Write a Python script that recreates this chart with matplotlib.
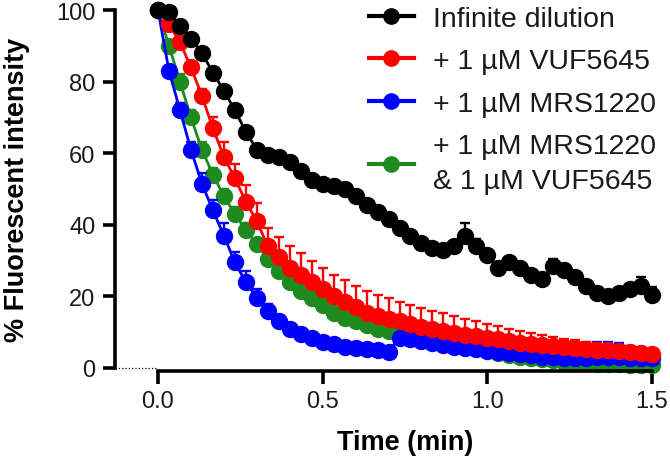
import matplotlib
matplotlib.use("Agg")
from matplotlib import pyplot as plt
from matplotlib.lines import Line2D
import numpy as np

# fluorescence decay after infinite dilution, 2 s sampling
time_min = np.arange(46) / 30.0

black_vals = [100, 99.5, 95.5, 92, 88, 82.5, 77.5, 72, 66, 61, 59.5, 59, 57.5, 55, 52.5,
              51.5, 50.8, 50, 48, 45.5, 43.5, 41.5, 39, 37, 35, 33.5, 33, 34, 37, 34,
              31.5, 28, 29.5, 28, 26, 25, 28.5, 27.5, 25.5, 23, 21, 20, 21, 22, 23, 20.5]
black_err = [0.5, 0.5, 1, 1, 1, 1, 1, 1, 1, 1, 1, 1, 1, 1, 1, 1, 1, 1, 1, 1, 1, 1, 1, 1,
             1, 1, 1, 1, 3.5, 2, 1, 1, 1, 1, 1, 1, 2, 1.5, 1, 1, 1, 1, 1, 1.5, 2.5, 2]

red_vals = [100, 96, 91, 84, 76, 67, 59, 53, 46.5, 41, 34, 31, 28, 26, 24, 22, 20, 18.5,
            17, 15.5, 14.5, 13.8, 13, 12.3, 11.5, 11, 10.3, 9.8, 9.3, 8.9, 8.4, 8, 7.5,
            7.1, 6.7, 6.4, 6.1, 5.8, 5.6, 5.3, 5.1, 4.9, 4.7, 4.5, 4.3, 4.0]
red_err = [0.5, 1, 1, 1, 2, 3, 4, 4, 4.5, 5, 5, 5.5, 6, 6, 6, 6, 6, 6, 6, 6, 6, 5.8, 5.5,
           5.3, 5.2, 5, 5, 4.8, 4.5, 4.2, 4, 3.6, 3.4, 3.2, 3, 2.8, 2.6, 2.4, 2.2, 2, 1.9,
           1.8, 1.7, 1.6, 1.5, 1.4]

blue_vals = [100, 83, 72, 61, 51.5, 44, 37, 29.5, 24, 19.5, 16, 13, 11, 9.5, 8.3, 7.3,
             6.6, 6, 5.6, 5.2, 4.9, 4.6, 8.5, 8.2, 7.6, 7, 6.5, 6, 5.6, 5.2, 4.8, 4.5,
             4.2, 3.8, 3.5, 3.2, 3, 2.8, 2.7, 2.8, 3, 3, 3, 2.9, 2.8, 2.7]
blue_err = [0.5, 1, 2, 2, 3, 3, 3.5, 3, 3, 2.5, 2, 1.5, 1, 1, 1, 1, 1, 1, 1, 1, 1, 1, 1,
            1, 1, 1, 1, 1, 1, 1, 1, 1, 1, 1, 1, 1, 1, 1, 2, 4, 4.3, 4.3, 4, 2, 1, 1]

green_vals = [100, 90, 80, 70, 61, 54, 48, 43, 38.5, 34.5, 30.5, 27, 24, 21.5, 19.5,
              17.5, 15.5, 14, 13, 12, 11, 10.2, 9.6, 9.3, 8.8, 8.3, 7.8, 7.2, 6.5, 5.7,
              5, 4.3, 3.7, 3.2, 2.8, 2.4, 2.1, 1.8, 1.6, 1.4, 1.2, 1.1, 1.0, 0.9, 0.8, 0.8]
green_err = [0.5, 1, 2, 2, 2, 2, 2, 2, 2, 1.5, 1.5, 1.5, 1, 1, 1, 1, 1, 1, 1, 1, 1, 1, 1,
             1, 1, 1, 1, 1, 1, 1, 1, 1, 1, 1, 1, 1, 1, 1, 1, 1, 1, 1, 1, 1, 1, 1]

labels = ["Infinite dilution", "+ 1 µM VUF5645", "+ 1 µM MRS1220",
          "+ 1 µM MRS1220\n& 1 µM VUF5645"]
colors = ['black', '#ff0000', '#0000ff', '#1f8a1f']

plt.rcParams['font.family'] = ['Liberation Sans', 'DejaVu Sans']

fig = plt.figure(figsize=(6.7, 4.64), dpi=100)
ax = fig.add_axes([115 / 670, 95 / 464, 545 / 670, 358 / 464])

def draw(vals, err, color, z):
    up = np.array(err)
    lo = np.zeros_like(up)
    ax.errorbar(time_min, vals, yerr=[lo, up], fmt='o-', color=color, ms=11.5,
                lw=2, elinewidth=1.7, capsize=3.3, capthick=1.7, zorder=z,
                clip_on=False)

draw(black_vals, black_err, colors[0], 5)
draw(green_vals, green_err, colors[3], 2)
draw(blue_vals, blue_err, colors[2], 3)
draw(red_vals, red_err, colors[1], 4)

ax.set_xlim(-43 / 329.33, 502 / 329.33)
ax.set_ylim(0, 100)

for s in ['top', 'right']:
    ax.spines[s].set_visible(False)
ax.spines['left'].set_linewidth(2.6)
ax.spines['left'].set_bounds(0, 100)
ax.spines['bottom'].set_linewidth(2.6)
ax.spines['bottom'].set_position(('outward', 2))
ax.spines['bottom'].set_bounds(0, 1.5)

ax.set_yticks([0, 20, 40, 60, 80, 100])
ax.set_xticks([0, 0.5, 1.0, 1.5])
ax.set_xticklabels(['0.0', '0.5', '1.0', '1.5'])
ax.tick_params(axis='both', width=2.6, length=9, labelsize=17, pad=5,
               labelcolor='#1a1a1a')

# dotted baseline from y axis to start of x axis
ax.plot([-43 / 329.33, 0], [0, 0], ls=':', color='black', lw=0.9, clip_on=False)

ax.set_xlabel("Time (min)", fontsize=19.5, fontweight='bold')
ax.xaxis.set_label_coords(290 / 545, -61 / 358)
ax.set_ylabel("% Fluorescent intensity", fontsize=19.5, fontweight='bold')
ax.yaxis.set_label_coords(-85 / 545, 0.5)

handles = [Line2D([], [], color=c, marker='o', ms=11, lw=3) for c in colors]
leg = ax.legend(handles, labels, loc='upper left',
                bbox_to_anchor=(358 / 670, 1.01), bbox_transform=fig.transFigure,
                frameon=False, fontsize=20.5, handlelength=1.55, handletextpad=0.7,
                labelspacing=0.58, borderaxespad=0)
for t in leg.get_texts():
    t.set_color('#1a1a1a')
    t.set_linespacing(1.45)

plt.savefig("out.png", dpi=100)
